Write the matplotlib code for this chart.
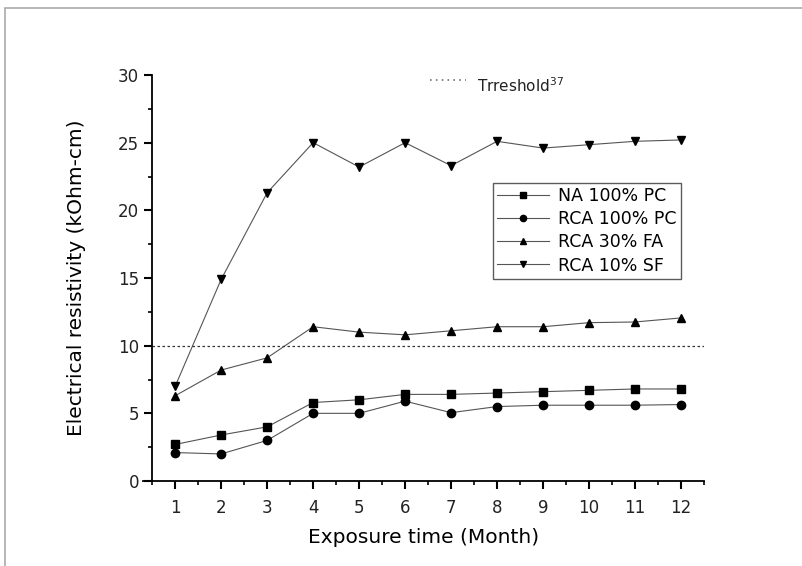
import matplotlib
matplotlib.use("Agg")
import matplotlib.pyplot as plt
from matplotlib.patches import Rectangle
from matplotlib.lines import Line2D
from matplotlib.ticker import MultipleLocator

monate = [1, 2, 3, 4, 5, 6, 7, 8, 9, 10, 11, 12]
na_100_pc = [2.7, 3.4, 4.0, 5.8, 6.0, 6.4, 6.4, 6.5, 6.6, 6.7, 6.8, 6.8]
rca_100_pc = [2.1, 2.0, 3.0, 5.0, 5.0, 5.9, 5.05, 5.5, 5.6, 5.6, 5.6, 5.65]
rca_30_fa = [6.3, 8.2, 9.1, 11.4, 11.0, 10.8, 11.1, 11.4, 11.4, 11.7, 11.75, 12.05]
rca_10_sf = [7.0, 14.9, 21.3, 25.0, 23.2, 25.0, 23.3, 25.1, 24.6, 24.85, 25.1, 25.2]
schwelle = 10

fig = plt.figure(figsize=(8.02, 5.66), dpi=100)
ax = fig.add_axes([143 / 802, 1 - 481 / 566, 561 / 802, 406 / 566])

linie = dict(color="#555555", linewidth=0.8, markeredgecolor="black",
             markerfacecolor="black", markersize=6)
ax.plot(monate, na_100_pc, marker="s", label="NA 100% PC", **linie)
ax.plot(monate, rca_100_pc, marker="o", label="RCA 100% PC", **linie)
ax.plot(monate, rca_30_fa, marker="^", label="RCA 30% FA", **linie)
ax.plot(monate, rca_10_sf, marker="v", label="RCA 10% SF", **linie)

ax.axhline(schwelle, xmin=(0.5 - 0.3) / 12.2, xmax=1, color="#333333",
           linewidth=0.9, linestyle=(0, (2, 2)))

ax.set_xlim(0.3, 12.5)
ax.set_ylim(0, 30)
ax.spines["top"].set_visible(False)
ax.spines["right"].set_visible(False)
ax.spines["left"].set_position(("data", 0.5))
ax.spines["left"].set_linewidth(1.3)
ax.spines["bottom"].set_linewidth(1.3)

ax.set_xticks(monate)
ax.xaxis.set_minor_locator(MultipleLocator(0.5))
ax.yaxis.set_major_locator(MultipleLocator(5))
ax.yaxis.set_minor_locator(MultipleLocator(2.5))
ax.tick_params(which="major", direction="out", length=6, width=1.5,
               labelsize=12, colors="black", labelcolor="#222222")
ax.tick_params(which="minor", direction="out", length=3, width=1.2)
ax.tick_params(axis="x", pad=7)

ax.set_xlabel("Exposure time (Month)", fontsize=14.5, labelpad=8)
ax.set_ylabel("Electrical resistivity (kOhm-cm)", fontsize=14.5, labelpad=23)

leg = ax.legend(loc="upper left", bbox_to_anchor=(0.624, 0.735), fontsize=12.5,
                frameon=True, fancybox=False, edgecolor="#333333",
                handlelength=3.0, borderpad=0.25, labelspacing=0.3,
                handletextpad=0.5, markerscale=0.75, borderaxespad=0)
leg.get_frame().set_linewidth(1.0)

# Schwellenwert-Legende oben
fig.add_artist(Line2D([430 / 802, 466 / 802], [1 - 80 / 566, 1 - 80 / 566],
                      transform=fig.transFigure, color="#777777",
                      linewidth=1.2, linestyle=(0, (1, 2.5))))
fig.text(477 / 802, 1 - 92 / 566, "Trreshold$^{37}$", fontsize=11,
         color="#222222")

# grauer Bildrahmen
fig.patches.append(Rectangle((5 / 802, -0.1), 2.0, 1 - 8 / 566 + 0.1,
                             transform=fig.transFigure, fill=False,
                             edgecolor="#aaaaaa", linewidth=1.2))

fig.savefig("out.png", dpi=100)
